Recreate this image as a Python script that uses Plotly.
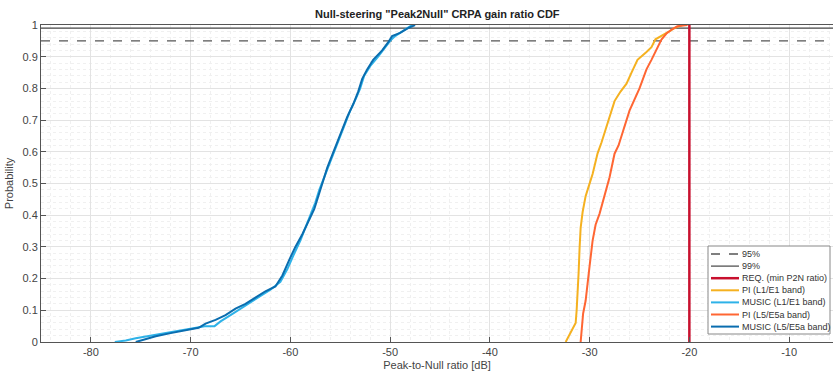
import plotly.graph_objects as go

# ---- data ----
music_l1_x = [-77.6, -76.5, -75.5, -74.0, -72.5, -71.0, -69.5, -68.6, -67.6, -67.0, -66.0, -65.0, -64.0, -63.0,
              -62.0, -61.0, -60.3, -59.6, -59.0, -58.5, -58.0, -57.5, -57.1, -56.6, -56.0, -55.5, -55.0, -54.5,
              -54.0, -53.4, -53.0, -52.6, -52.0, -51.2, -50.5, -50.0, -49.5, -48.6, -47.8]
music_l1_y = [0.0, 0.005, 0.012, 0.02, 0.03, 0.038, 0.045, 0.05, 0.05, 0.065, 0.085, 0.105, 0.125, 0.145,
              0.165, 0.19, 0.23, 0.28, 0.32, 0.36, 0.40, 0.44, 0.48, 0.52, 0.57, 0.61, 0.65, 0.69,
              0.73, 0.77, 0.80, 0.84, 0.87, 0.90, 0.93, 0.95, 0.965, 0.985, 1.0]

music_l5_x = [-75.5, -74.5, -73.5, -72.0, -70.5, -69.2, -68.5, -67.5, -66.5, -65.5, -64.5, -63.5, -62.5, -61.5,
              -60.8, -60.1, -59.5, -58.8, -58.2, -57.6, -57.2, -56.8, -56.3, -55.8, -55.3, -54.8, -54.3, -53.7,
              -53.2, -52.8, -52.3, -51.7, -50.8, -50.2, -49.8, -49.0, -48.2, -47.5]
music_l5_y = [0.0, 0.01, 0.018, 0.028, 0.036, 0.045, 0.058, 0.07, 0.085, 0.105, 0.12, 0.14, 0.16, 0.175,
              0.21, 0.26, 0.30, 0.34, 0.38, 0.42, 0.46, 0.50, 0.55, 0.59, 0.63, 0.67, 0.71, 0.75,
              0.79, 0.83, 0.86, 0.89, 0.92, 0.945, 0.965, 0.975, 0.99, 1.0]

pi_l1_x = [-32.4, -31.9, -31.4, -31.3, -31.2, -31.1, -31.0, -30.9, -30.7, -30.4, -30.1, -29.7, -29.2, -28.8,
           -28.2, -27.8, -27.5, -26.9, -26.3, -25.8, -25.2, -24.3, -23.8, -23.4, -22.8, -22.1, -21.5, -20.7, -20.2]
pi_l1_y = [0.0, 0.03, 0.06, 0.10, 0.15, 0.22, 0.30, 0.36, 0.41, 0.46, 0.49, 0.53, 0.595, 0.63,
           0.69, 0.73, 0.76, 0.79, 0.815, 0.85, 0.89, 0.915, 0.93, 0.955, 0.965, 0.978, 0.99, 1.0, 1.0]

pi_l5_x = [-30.9, -30.8, -30.65, -30.4, -30.2, -30.0, -29.7, -29.4, -29.0, -28.6, -28.3, -28.0, -27.5, -27.1,
           -26.7, -26.0, -25.0, -24.3, -23.8, -23.4, -22.8, -22.3, -21.8, -21.2, -20.2]
pi_l5_y = [0.0, 0.04, 0.09, 0.13, 0.195, 0.24, 0.32, 0.37, 0.405, 0.45, 0.48, 0.52, 0.594, 0.62,
           0.66, 0.73, 0.80, 0.86, 0.89, 0.915, 0.954, 0.973, 0.985, 0.996, 1.0]

req_x = [-20, -20]
req_y = [0, 1]
x_limits = [-85, -5.6]
p95 = 0.95
p99 = 0.99
x_ticks = [-80, -70, -60, -50, -40, -30, -20, -10]
x_tick_labels = ["-80", "-70", "-60", "-50", "-40", "-30", "-20", "-10"]
y_ticks = [0, 0.1, 0.2, 0.3, 0.4, 0.5, 0.6, 0.7, 0.8, 0.9, 1]
y_tick_labels = ["0", "0.1", "0.2", "0.3", "0.4", "0.5", "0.6", "0.7", "0.8", "0.9", "1"]

FONT = "Liberation Sans, Arial, sans-serif"

series = [
    dict(name="95%", x=x_limits, y=[p95, p95], color="#555555", width=1.3, dash="dash"),
    dict(name="99%", x=x_limits, y=[p99, p99], color="#444444", width=1.2, dash="solid"),
    dict(name="REQ. (min P2N ratio)", x=req_x, y=req_y, color="#C8102E", width=2.5, dash="solid"),
    dict(name="PI (L1/E1 band)", x=pi_l1_x, y=pi_l1_y, color="#F5B120", width=2, dash="solid"),
    dict(name="MUSIC (L1/E1 band)", x=music_l1_x, y=music_l1_y, color="#2EB2E8", width=2, dash="solid"),
    dict(name="PI (L5/E5a band)", x=pi_l5_x, y=pi_l5_y, color="#FF6633", width=2, dash="solid"),
    dict(name="MUSIC (L5/E5a band)", x=music_l5_x, y=music_l5_y, color="#0A6DAF", width=2, dash="solid"),
]

fig = go.Figure()
for s in series:
    fig.add_trace(go.Scatter(x=s["x"], y=s["y"], mode="lines", name=s["name"], showlegend=False,
                             line=dict(color=s["color"], width=s["width"], dash=s["dash"])))

axis_common = dict(
    showline=True, linecolor="#555555", linewidth=1, mirror=True,
    ticks="inside", ticklen=5, tickcolor="#555555",
    showgrid=True, gridcolor="#e3e3e3", gridwidth=1,
    zeroline=False,
    tickfont=dict(family=FONT, size=11, color="#444444"),
)

fig.update_xaxes(range=x_limits, tickvals=x_ticks, ticktext=x_tick_labels,
                 title=dict(text="Peak-to-Null ratio [dB]", font=dict(family=FONT, size=11, color="#444444"),
                            standoff=4),
                 minor=dict(dtick=2, showgrid=True, gridcolor="#f0f0f0", griddash="dot", ticks=""),
                 **axis_common)
fig.update_yaxes(range=[0, 1], tickvals=y_ticks, ticktext=y_tick_labels,
                 title=dict(text="Probability", font=dict(family=FONT, size=11, color="#444444"), standoff=6),
                 minor=dict(dtick=0.02, showgrid=True, gridcolor="#f0f0f0", griddash="dot", ticks=""),
                 **axis_common)

# ---- custom compact legend (MATLAB style) ----
W_PLOT, H_PLOT, L, T = 792.0, 317.0, 41.0, 25.0
def px_x(p):
    return (p - L) / W_PLOT
def px_y(p):
    return (T + H_PLOT - p) / H_PLOT

shapes = [dict(type="rect", xref="paper", yref="paper", layer="above",
               x0=px_x(708), x1=px_x(830), y0=px_y(334), y1=px_y(246),
               fillcolor="white", line=dict(color="#888888", width=1))]
annotations = []
row0, row_step = 254.0, 12.1
for i, s in enumerate(series):
    yc = px_y(row0 + i * row_step)
    shapes.append(dict(type="line", xref="paper", yref="paper", layer="above",
                       x0=px_x(711), x1=px_x(739), y0=yc, y1=yc,
                       line=dict(color=s["color"], width=min(s["width"], 2.5), dash=s["dash"])))
    annotations.append(dict(xref="paper", yref="paper", x=px_x(740), y=yc, xanchor="left", yanchor="middle",
                            text=s["name"], showarrow=False,
                            font=dict(family=FONT, size=9, color="#333333")))

fig.update_layout(
    width=833, height=371,
    margin=dict(l=41, r=0, t=25, b=29),
    paper_bgcolor="white", plot_bgcolor="white",
    title=dict(text='<b>Null-steering "Peak2Null" CRPA gain ratio CDF</b>',
               font=dict(family=FONT, size=11, color="#222222"),
               x=0.525, xanchor="center", y=0.962, yanchor="middle"),
    shapes=shapes, annotations=annotations,
    showlegend=False,
)

fig.write_html("out.html")
